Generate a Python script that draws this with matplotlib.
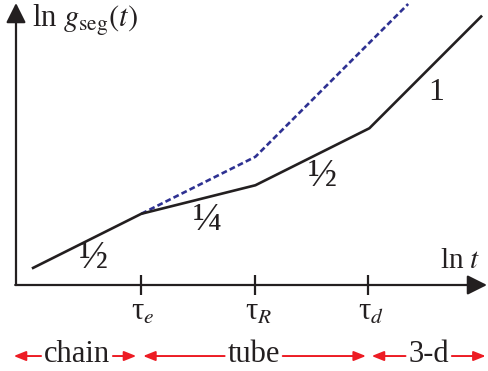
import matplotlib
matplotlib.use("Agg")
import matplotlib.pyplot as plt

plt.rcParams['font.family'] = ['Liberation Serif', 'DejaVu Serif']
plt.rcParams['mathtext.fontset'] = 'stix'

# Piecewise power-law regimes of segmental mean-square displacement (ln-ln units)
solid_x = [0.15, 1.1, 2.1, 3.1, 4.08]
solid_y = [0.15, 0.625, 0.875, 1.375, 2.355]
dashed_x = [1.1, 2.1, 3.44]
dashed_y = [0.625, 1.125, 2.465]

tick_pos = [1.1, 2.1, 3.085]
tick_labels = [r'τ$_{e}$', r'τ$_{R}$', r'τ$_{d}$']

slope_labels = ['½', '¼', '½', '1']
slope_pos = [(0.675, 0.23), (1.675, 0.57), (2.69, 0.95), (3.69, 1.69)]

regions = ['chain', 'tube', '3-d']
region_bounds = [(-0.02, 1.055), (1.115, 3.07), (3.12, 4.12)]
region_text_x = [0.535, 2.085, 3.62]

INK = '#231f20'

fig = plt.figure(figsize=(4.88, 3.71), dpi=100)
ax = fig.add_axes([0, 0, 1, 1])
ax.set_xlim(-16 / 114, 472 / 114)
ax.set_ylim(-86 / 114, 285 / 114)
ax.axis('off')

# axes with arrowheads
ax_kw = dict(arrowstyle='-|>,head_length=0.6,head_width=0.3', color=INK,
             lw=1.6, mutation_scale=20, shrinkA=0, shrinkB=0)
ax.annotate('', xy=(0, 282 / 114), xytext=(0, 0), arrowprops=ax_kw)
ax.annotate('', xy=(471 / 114, 0), xytext=(-0.007, 0), arrowprops=ax_kw)

for xp, lab in zip(tick_pos, tick_labels):
    ax.plot([xp, xp], [-0.09, 0.09], color=INK, lw=1.6, solid_capstyle='butt')
    ax.text(xp - 0.088, -0.307, lab, fontsize=22, ha='left', va='baseline', color=INK)

ax.plot(dashed_x, dashed_y, color='#2e3192', lw=1.9, dashes=(2.2, 1.2))
ax.plot(solid_x, solid_y, color=INK, lw=1.9, solid_joinstyle='miter')

for lab, (xp, yp) in zip(slope_labels, slope_pos):
    ax.text(xp, yp, lab, fontsize=28 if lab != '1' else 23, ha='center', va='center', color=INK)

ax.text(0.14, 2.263, r'ln $g_{\mathrm{seg}}(t)$', fontsize=22, ha='left', va='baseline', color=INK)
ax.text(3.719, 0.149, r'ln $t$', fontsize=21, ha='left', va='baseline', color=INK)

# regime bars below the time axis
red = '#ed1c24'
yb = -0.623
arr_kw = dict(arrowstyle='-|>,head_length=0.45,head_width=0.18', color=red,
              lw=1.4, mutation_scale=16, shrinkA=0, shrinkB=0)
for name, (x0, x1), xt in zip(regions, region_bounds, region_text_x):
    t = ax.text(xt, -0.675, name, fontsize=22, ha='center', va='baseline', color=INK)
    fig.canvas.draw()
    bb = t.get_window_extent().transformed(ax.transData.inverted())
    ax.annotate('', xy=(x0, yb), xytext=(bb.x0 - 0.025, yb), arrowprops=arr_kw)
    ax.annotate('', xy=(x1, yb), xytext=(bb.x1 + 0.025, yb), arrowprops=arr_kw)

fig.savefig('out.png', dpi=100)
